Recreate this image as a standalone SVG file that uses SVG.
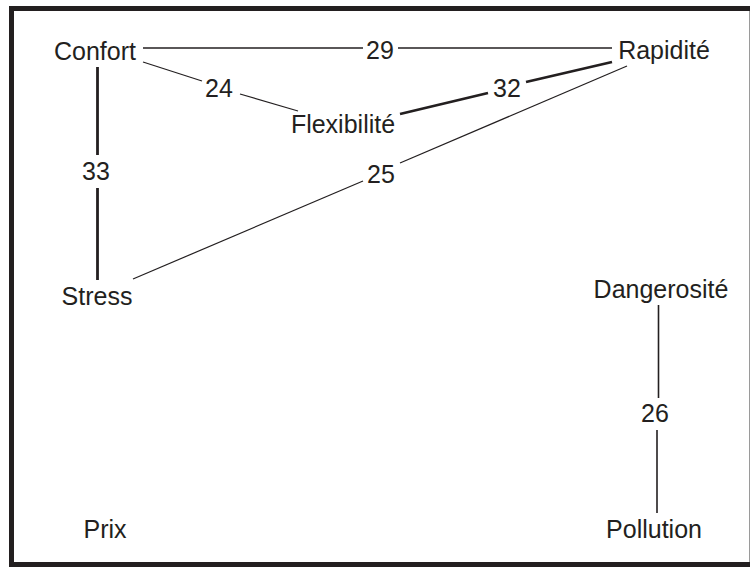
<svg xmlns="http://www.w3.org/2000/svg" width="750" height="567" viewBox="0 0 750 567">
<style>
text{font-family:"Liberation Sans",Arial,sans-serif;font-size:25px;fill:#231f20;text-anchor:middle}
.l{stroke:#231f20;fill:none}
.t1{stroke-width:1.2}
.t2{stroke-width:1.6}
.t3{stroke-width:2.8}
</style>
<rect x="0" y="0" width="750" height="567" fill="#fff"/>
<path d="M752,8.5 H11.5 V564.5 H752" fill="none" stroke="#231f20" stroke-width="5"/>
<line x1="749.5" y1="11" x2="749.5" y2="562" stroke="#9a9a9a" stroke-width="1"/>
<g id="connectors">
<line class="l t2" x1="143" y1="48" x2="363" y2="48"/>
<line class="l t2" x1="398" y1="48" x2="612" y2="48"/>
<line class="l t1" x1="143" y1="62" x2="202" y2="81"/>
<line class="l t1" x1="240" y1="94" x2="298" y2="111"/>
<line class="l t3" x1="400" y1="114" x2="488" y2="93"/>
<line class="l t3" x1="526" y1="82" x2="612" y2="62"/>
<line class="l t1" x1="133" y1="279" x2="363" y2="181"/>
<line class="l t1" x1="400" y1="163" x2="627" y2="66"/>
<line class="l t3" x1="97.5" y1="67" x2="97.5" y2="155"/>
<line class="l t3" x1="97.5" y1="188" x2="97.5" y2="280"/>
<line class="l t2" x1="658.5" y1="305" x2="658.5" y2="398"/>
<line class="l t2" x1="657" y1="430" x2="657" y2="513"/>
<text x="380" y="59">29</text>
<text x="219" y="97">24</text>
<text x="507" y="97">32</text>
<text x="381" y="183">25</text>
<text x="96" y="180">33</text>
<text x="655" y="422">26</text>
</g>
<g id="confort"><text x="95" y="60">Confort</text></g>
<g id="rapidite"><text x="664" y="59">Rapidité</text></g>
<g id="flexibilite"><text x="343" y="133">Flexibilité</text></g>
<g id="stress"><text x="97" y="305">Stress</text></g>
<g id="dangerosite"><text x="661" y="298">Dangerosité</text></g>
<g id="pollution"><text x="654" y="538">Pollution</text></g>
<g id="prix"><text x="105" y="538">Prix</text></g>
</svg>
